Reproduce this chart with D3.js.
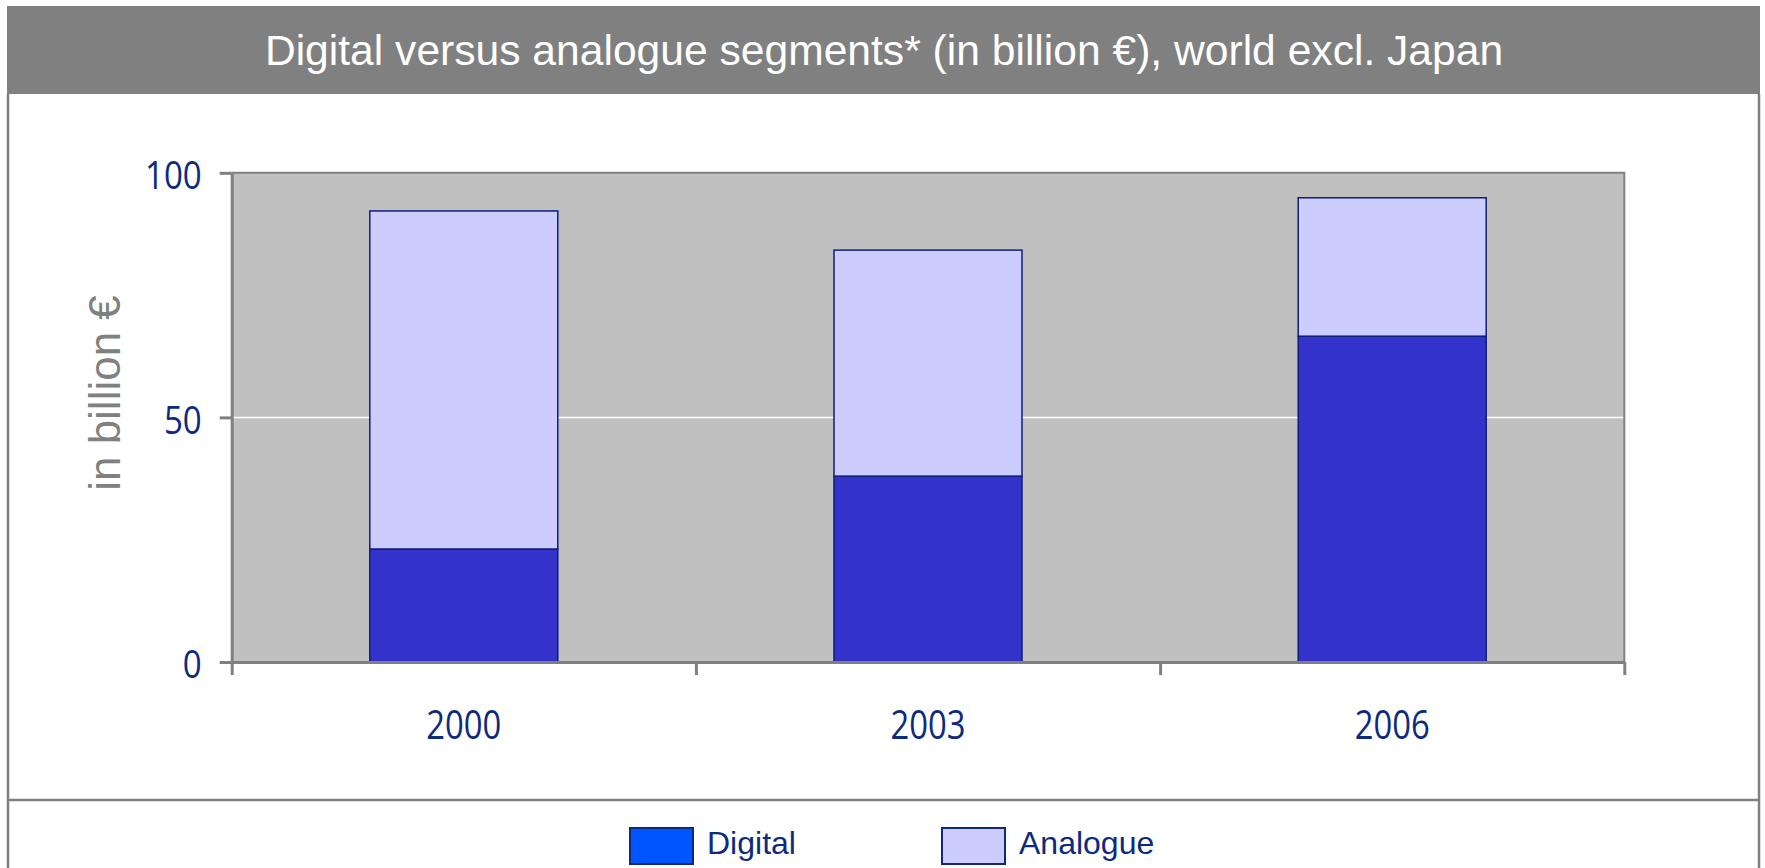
<!DOCTYPE html>
<html>
<head>
<meta charset="utf-8">
<script src="https://cdnjs.cloudflare.com/ajax/libs/d3/7.8.5/d3.min.js"></script>
<style>
  body { margin: 0; background: #fff; }
</style>
</head>
<body>
<div id="chart"></div>
<script>
// data
var years = ["2000", "2003", "2006"];
var digital = [23.1, 38.0, 66.6];
var analogue = [69.1, 46.2, 28.3];
var seriesNames = ["Digital", "Analogue"];
var yTicks = [0, 50, 100];

var W = 1765, H = 868;
var margin = {top: 172.8, right: 1765 - 1624.3, bottom: 868 - 662, left: 231.7},
    width = W - margin.left - margin.right,
    height = H - margin.top - margin.bottom;

var navy = "#0d2a7d", grey = "#808080";

var svg = d3.select("#chart").append("svg")
    .attr("width", W)
    .attr("height", H);

// frame + title bar
svg.append("rect")
    .attr("x", 7).attr("y", 6).attr("width", 1753).attr("height", 88)
    .attr("fill", grey);
svg.append("text")
    .attr("x", 884).attr("y", 65)
    .attr("text-anchor", "middle")
    .attr("fill", "#fff")
    .style("font-family", "'Liberation Sans', Arial, sans-serif")
    .style("font-size", "42.6px")
    .text("Digital versus analogue segments* (in billion €), world excl. Japan");

svg.append("line").attr("x1", 8).attr("x2", 8).attr("y1", 94).attr("y2", H)
    .attr("stroke", grey).attr("stroke-width", 2.5);
svg.append("line").attr("x1", 1759).attr("x2", 1759).attr("y1", 94).attr("y2", H)
    .attr("stroke", grey).attr("stroke-width", 2.5);
svg.append("line").attr("x1", 8).attr("x2", 1759).attr("y1", 800).attr("y2", 800)
    .attr("stroke", grey).attr("stroke-width", 2.5);

var g = svg.append("g")
    .attr("transform", "translate(" + margin.left + "," + margin.top + ")");

var x = d3.scaleBand()
    .domain(years)
    .range([0, width])
    .paddingInner(0.595)
    .paddingOuter(0.2975);

var y = d3.scaleLinear()
    .domain([0, 100])
    .range([height, 0]);

// plot background
g.append("rect")
    .attr("width", width).attr("height", height)
    .attr("fill", "#c0c0c0");

// gridline at 50
g.append("g")
    .selectAll("line")
    .data(yTicks.filter(function(d){ return d > 0 && d < 100; }))
    .enter().append("line")
    .attr("x1", 0).attr("x2", width)
    .attr("y1", function(d){ return y(d); })
    .attr("y2", function(d){ return y(d); })
    .attr("stroke", "#fff").attr("stroke-width", 1.5);

// top and right border of plot
g.append("path")
    .attr("d", "M0," + y(100) + "H" + width + "V" + height)
    .attr("fill", "none").attr("stroke", grey).attr("stroke-width", 2);

// stacked bars
var table = years.map(function(yr, i){
    return {year: yr, Digital: digital[i], Analogue: analogue[i]};
});
var stacked = d3.stack().keys(seriesNames)(table);
var fills = {Digital: "#3333cc", Analogue: "#ccccff"};

g.selectAll(".layer")
    .data(stacked)
    .enter().append("g")
    .attr("class", "layer")
    .attr("fill", function(d){ return fills[d.key]; })
    .selectAll("rect")
    .data(function(d){ return d; })
    .enter().append("rect")
    .attr("x", function(d){ return x(d.data.year); })
    .attr("width", x.bandwidth())
    .attr("y", function(d){ return y(d[1]); })
    .attr("height", function(d){ return y(d[0]) - y(d[1]); })
    .attr("stroke", "#0b1f7a")
    .attr("stroke-width", 1.5);

// y axis
var yAxis = g.append("g")
    .call(d3.axisLeft(y).tickValues(yTicks).tickSize(12).tickSizeOuter(0));
yAxis.select(".domain").attr("stroke", grey).attr("stroke-width", 3);
yAxis.selectAll(".tick line").attr("stroke", grey).attr("stroke-width", 3);
yAxis.selectAll(".tick text")
    .attr("x", -34.5)
    .attr("dy", "0.42em")
    .attr("transform", "scale(0.87,1)")
    .attr("fill", navy)
    .style("font-family", "'Open Sans', sans-serif")
    .style("font-size", "38px");

// x axis: labels at band centres, ticks at band boundaries
var xb = d3.scaleLinear().domain([0, years.length]).range([0, width]);
var xTickAxis = g.append("g")
    .attr("transform", "translate(0," + height + ")")
    .call(d3.axisBottom(xb).tickValues(d3.range(years.length + 1)).tickSize(13).tickSizeOuter(0).tickFormat(""));
xTickAxis.select(".domain").attr("stroke", grey).attr("stroke-width", 3);
xTickAxis.selectAll(".tick line").attr("stroke", grey).attr("stroke-width", 3);

var xLab = g.append("g")
    .attr("transform", "translate(0," + height + ")")
    .call(d3.axisBottom(x).tickSize(0));
xLab.select(".domain").remove();
xLab.selectAll(".tick text")
    .attr("y", 77.3)
    .attr("dy", 0)
    .attr("transform", "scale(0.82,1)")
    .attr("fill", navy)
    .style("font-family", "'Open Sans', sans-serif")
    .style("font-size", "40px");

// y axis title
svg.append("text")
    .attr("transform", "translate(120,393) rotate(-90)")
    .attr("text-anchor", "middle")
    .attr("fill", grey)
    .style("font-family", "'Liberation Sans', Arial, sans-serif")
    .style("font-size", "44px")
    .text("in billion €");

// legend
var legendFills = {Digital: "#0055ff", Analogue: "#ccccff"};
var legendX = [630, 942];
var legend = svg.selectAll(".legend")
    .data(seriesNames)
    .enter().append("g")
    .attr("class", "legend")
    .attr("transform", function(d, i){ return "translate(" + legendX[i] + ",828)"; });
legend.append("rect")
    .attr("width", 63).attr("height", 36)
    .attr("fill", function(d){ return legendFills[d]; })
    .attr("stroke", navy).attr("stroke-width", 2);
legend.append("text")
    .attr("x", 77).attr("y", 26)
    .attr("fill", navy)
    .style("font-family", "'Liberation Sans', Arial, sans-serif")
    .style("font-size", "32px")
    .text(function(d){ return d; });
</script>
</body>
</html>
